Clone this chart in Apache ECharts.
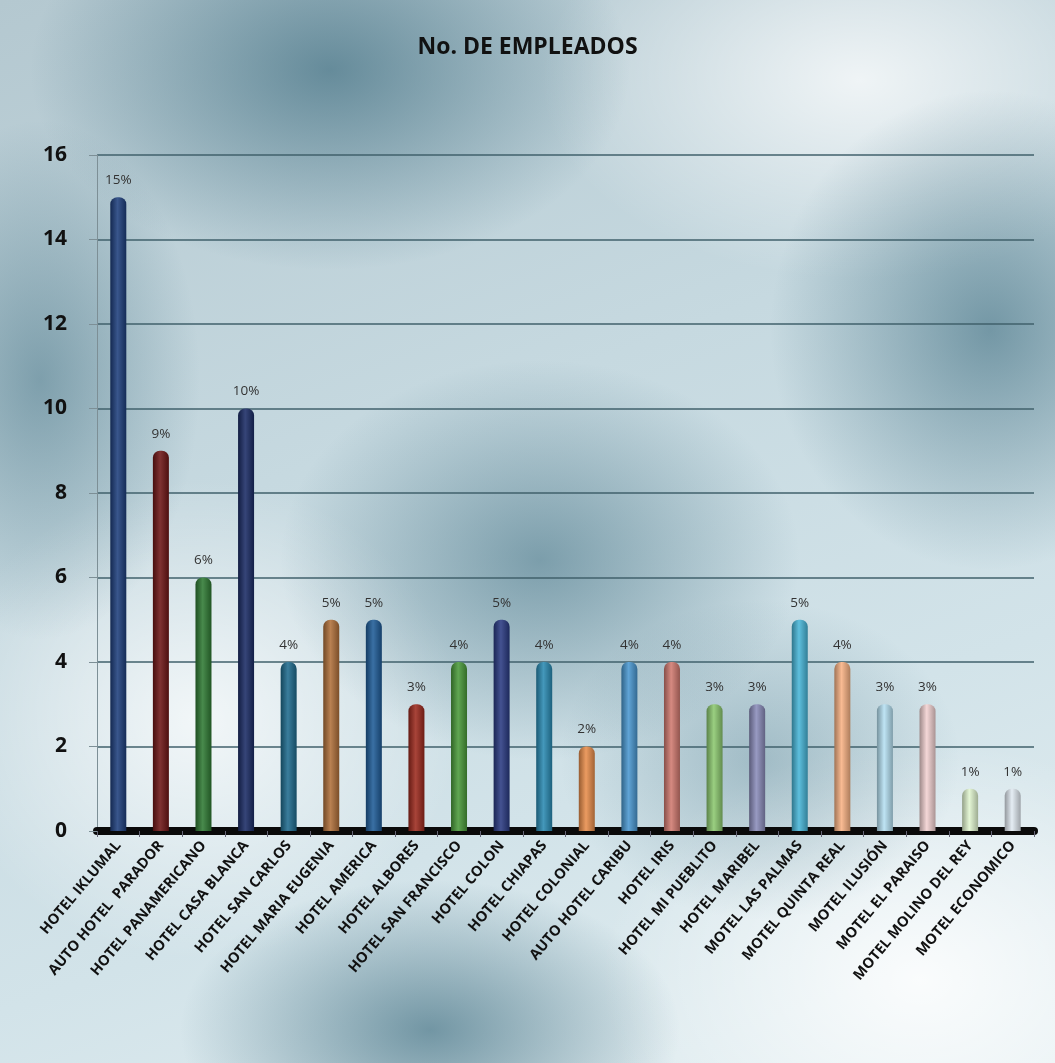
<!DOCTYPE html>
<html><head><meta charset="utf-8">
<script src="https://cdn.jsdelivr.net/npm/echarts@6/dist/echarts.min.js"></script>
<style>
html,body{margin:0;padding:0;background:#fff;}
#c{width:1055px;height:1063px;
background:
 radial-gradient(ellipse 300px 200px at 330px 70px, rgba(45,95,115,0.60), rgba(45,95,115,0) 100%),
 radial-gradient(ellipse 160px 260px at 40px 380px, rgba(45,95,115,0.45), rgba(45,95,115,0) 100%),
 radial-gradient(ellipse 260px 200px at 540px 560px, rgba(45,95,115,0.50), rgba(45,95,115,0) 100%),
 radial-gradient(ellipse 220px 240px at 990px 330px, rgba(45,95,115,0.55), rgba(45,95,115,0) 100%),
 radial-gradient(ellipse 250px 150px at 430px 1030px, rgba(45,95,115,0.60), rgba(45,95,115,0) 100%),
 radial-gradient(ellipse 200px 160px at 760px 760px, rgba(45,95,115,0.30), rgba(45,95,115,0) 100%),
 radial-gradient(ellipse 260px 240px at 200px 720px, rgba(255,255,255,0.75), rgba(255,255,255,0) 100%),
 radial-gradient(ellipse 320px 240px at 920px 980px, rgba(255,255,255,0.85), rgba(255,255,255,0) 100%),
 radial-gradient(ellipse 320px 200px at 860px 80px, rgba(255,255,255,0.75), rgba(255,255,255,0) 100%),
 linear-gradient(160deg, #b4c8d0 0%, #c6d9e0 40%, #d2e3e9 70%, #e4eff2 100%);}
</style></head>
<body><div id="c"></div>
<script>
const categories = ["HOTEL IKLUMAL","AUTO HOTEL  PARADOR","HOTEL PANAMERICANO","HOTEL CASA BLANCA","HOTEL SAN CARLOS","HOTEL MARIA EUGENIA","HOTEL AMERICA","HOTEL ALBORES","HOTEL SAN FRANCISCO","HOTEL COLON","HOTEL CHIAPAS","HOTEL COLONIAL","AUTO HOTEL CARIBU","HOTEL IRIS","HOTEL MI PUEBLITO","HOTEL MARIBEL","MOTEL LAS PALMAS","MOTEL QUINTA REAL","MOTEL ILUSIÓN","MOTEL EL PARAISO","MOTEL MOLINO DEL REY","MOTEL ECONOMICO"];
const values = [15,9,6,10,4,5,5,3,4,5,4,2,4,4,3,3,5,4,3,3,1,1];
const percentLabels = ["15%","9%","6%","10%","4%","5%","5%","3%","4%","5%","4%","2%","4%","4%","3%","3%","5%","4%","3%","3%","1%","1%"];
const barColors = ["#1e3f7c","#6e1616","#2f7a34","#1b2c66","#1f6b8e","#b0703a","#1f5c98","#9c2a1e","#4a9a3a","#2a3a82","#2a8ab2","#e88d4c","#4a98d0","#d07a70","#8cc870","#8a8cba","#48b6d8","#f8b284","#b6e0f2","#f2d2d2","#e2f6d0","#e2eaf2"];
const yTicks = {min:0, max:16, interval:2};

function shade(hex, f){
  const n=parseInt(hex.slice(1),16);
  let r=(n>>16)&255,g=(n>>8)&255,b=n&255;
  if(f<0){r=r*(1+f);g=g*(1+f);b=b*(1+f);}else{r=r+(255-r)*f;g=g+(255-g)*f;b=b+(255-b)*f;}
  return 'rgb('+Math.round(r)+','+Math.round(g)+','+Math.round(b)+')';
}
const chart = echarts.init(document.getElementById('c'), null, {renderer:'canvas'});
chart.setOption({
  backgroundColor:'transparent',
  title:{text:'No. DE EMPLEADOS', left:'center', top:31,
    textStyle:{fontFamily:'Open Sans', fontWeight:'bold', fontSize:23, color:'#111'}},
  grid:{left:97, right:21, top:155, bottom:232, containLabel:false},
  xAxis:{type:'category', data:categories,
    axisLine:{lineStyle:{color:'#0a0a0a', width:8}},
    axisTick:{show:true, alignWithLabel:false, length:6, lineStyle:{color:'#667'}},
    axisLabel:{interval:0, rotate:50, fontFamily:'Open Sans', fontWeight:'bold', fontSize:14.5, color:'#111', margin:12}},
  yAxis:{type:'value', min:yTicks.min, max:yTicks.max, interval:yTicks.interval,
    axisLine:{show:true, lineStyle:{color:'#7d8f96', width:1}},
    axisTick:{show:true, length:8, lineStyle:{color:'#7d8f96'}},
    splitLine:{lineStyle:{color:'#40606b', width:1.5}},
    axisLabel:{fontFamily:'Open Sans', fontWeight:'bold', fontSize:21, color:'#111', margin:30}},
  series:[{type:'bar', barWidth:16,
    data: values.map((v,i)=>({value:v,
      itemStyle:{borderRadius:[7,7,0,0],
        color:{type:'linear',x:0,y:0,x2:1,y2:0,colorStops:[
          {offset:0,color:shade(barColors[i],-0.35)},
          {offset:0.45,color:shade(barColors[i],0.12)},
          {offset:1,color:shade(barColors[i],-0.3)}]}}})),
    label:{show:true, position:'top', distance:10,
      formatter:p=>percentLabels[p.dataIndex],
      fontFamily:'Open Sans', fontSize:13.5, color:'#333'}
  }]
});
</script></body></html>
